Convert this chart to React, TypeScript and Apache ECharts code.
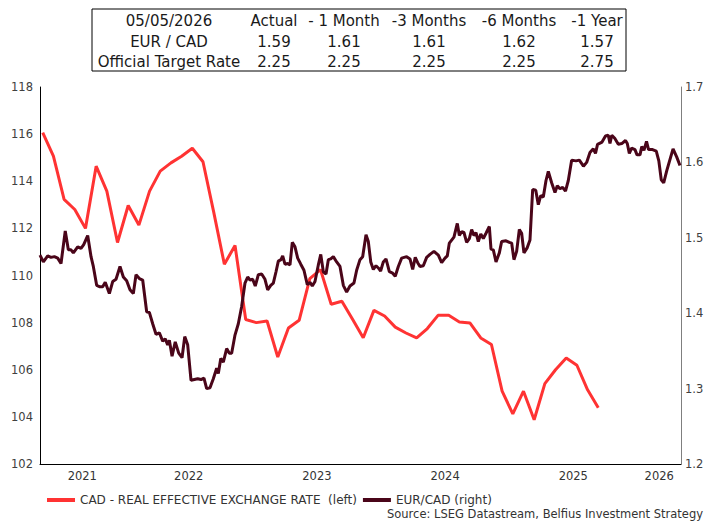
import React, { useEffect, useRef } from "react";
import * as echarts from "echarts";

// ---- Table data ----
const tableHeader = ["05/05/2026", "Actual", "- 1 Month", "-3 Months", "-6 Months", "-1 Year"];
const tableEurCad = ["EUR / CAD", "1.59", "1.61", "1.61", "1.62", "1.57"];
const tableRate = ["Official Target Rate", "2.25", "2.25", "2.25", "2.25", "2.75"];

// ---- Axis labels ----
const yearLabels = ["2021", "2022", "2023", "2024", "2025", "2026"];

// ---- Series names ----
const reerName = "CAD - REAL EFFECTIVE EXCHANGE RATE  (left)";
const eurCadName = "EUR/CAD (right)";
const sourceText = "Source: LSEG Datastream, Belfius Investment Strategy";

// ---- CAD real effective exchange rate (monthly) ----
const reerMonths = [
  "2021-05", "2021-06", "2021-07", "2021-08", "2021-09", "2021-10", "2021-11", "2021-12",
  "2022-01", "2022-02", "2022-03", "2022-04", "2022-05", "2022-06", "2022-07", "2022-08",
  "2022-09", "2022-10", "2022-11", "2022-12",
  "2023-01", "2023-02", "2023-03", "2023-04", "2023-05", "2023-06", "2023-07", "2023-08",
  "2023-09", "2023-10", "2023-11", "2023-12",
  "2024-01", "2024-02", "2024-03", "2024-04", "2024-05", "2024-06", "2024-07", "2024-08",
  "2024-09", "2024-10", "2024-11", "2024-12",
  "2025-01", "2025-02", "2025-03", "2025-04", "2025-05", "2025-06", "2025-07", "2025-08",
  "2025-09",
];
const reerValues = [
  116.06, 115.07, 113.23, 112.8, 112.0, 114.64, 113.58, 111.4,
  112.97, 112.14, 113.58, 114.43, 114.78, 115.06, 115.4, 114.83,
  112.7, 110.48, 111.27, 108.13,
  108.0, 108.07, 106.54, 107.77, 108.1, 109.87, 110.25, 108.78,
  108.91, 108.14, 107.36, 108.52,
  108.28, 107.81, 107.56, 107.35, 107.75, 108.31, 108.31, 108.03,
  107.98, 107.35, 107.07, 105.09,
  104.13, 105.09, 103.88, 105.41, 106.0, 106.5, 106.19, 105.15,
  104.39,
];

// ---- EUR/CAD (time in decimal years, value) ----
const eurCad: [number, number][] = [
  [2021.340, 1.477], [2021.366, 1.468], [2021.400, 1.476], [2021.426, 1.474], [2021.452, 1.475],
  [2021.478, 1.473], [2021.504, 1.466], [2021.537, 1.509], [2021.561, 1.484], [2021.582, 1.484],
  [2021.600, 1.480], [2021.634, 1.488], [2021.660, 1.486], [2021.681, 1.491], [2021.712, 1.503],
  [2021.738, 1.475], [2021.756, 1.462], [2021.782, 1.437], [2021.808, 1.435], [2021.829, 1.435],
  [2021.849, 1.441], [2021.881, 1.426], [2021.907, 1.442], [2021.933, 1.445], [2021.964, 1.462],
  [2021.990, 1.448], [2022.016, 1.443], [2022.042, 1.431], [2022.068, 1.426], [2022.089, 1.451],
  [2022.115, 1.446], [2022.141, 1.444], [2022.172, 1.402], [2022.193, 1.401], [2022.219, 1.386],
  [2022.245, 1.372], [2022.271, 1.374], [2022.297, 1.363], [2022.317, 1.366], [2022.336, 1.358],
  [2022.349, 1.364], [2022.370, 1.343], [2022.395, 1.362], [2022.422, 1.347], [2022.448, 1.341],
  [2022.469, 1.369], [2022.492, 1.358], [2022.518, 1.311], [2022.544, 1.312], [2022.570, 1.313],
  [2022.596, 1.312], [2022.619, 1.314], [2022.640, 1.300], [2022.666, 1.301], [2022.692, 1.313],
  [2022.718, 1.327], [2022.731, 1.320], [2022.750, 1.340], [2022.770, 1.335], [2022.796, 1.353],
  [2022.817, 1.347], [2022.835, 1.347], [2022.861, 1.371], [2022.887, 1.386], [2022.913, 1.409],
  [2022.939, 1.440], [2022.960, 1.448], [2022.978, 1.444], [2022.999, 1.445], [2023.019, 1.436],
  [2023.043, 1.451], [2023.069, 1.452], [2023.095, 1.445], [2023.116, 1.431], [2023.140, 1.437],
  [2023.160, 1.440], [2023.181, 1.455], [2023.199, 1.469], [2023.220, 1.471], [2023.233, 1.476],
  [2023.251, 1.465], [2023.272, 1.466], [2023.290, 1.464], [2023.308, 1.494], [2023.329, 1.488],
  [2023.350, 1.473], [2023.374, 1.465], [2023.399, 1.457], [2023.425, 1.438], [2023.446, 1.441],
  [2023.464, 1.436], [2023.485, 1.442], [2023.511, 1.464], [2023.530, 1.478], [2023.550, 1.455],
  [2023.571, 1.452], [2023.589, 1.471], [2023.608, 1.472], [2023.628, 1.475], [2023.654, 1.468],
  [2023.680, 1.462], [2023.706, 1.437], [2023.732, 1.428], [2023.758, 1.436], [2023.789, 1.440],
  [2023.810, 1.457], [2023.836, 1.471], [2023.857, 1.475], [2023.883, 1.504], [2023.901, 1.495],
  [2023.920, 1.468], [2023.940, 1.458], [2023.961, 1.463], [2023.979, 1.460], [2023.997, 1.456],
  [2024.018, 1.468], [2024.039, 1.472], [2024.065, 1.455], [2024.091, 1.453], [2024.111, 1.449],
  [2024.135, 1.462], [2024.161, 1.473], [2024.200, 1.475], [2024.226, 1.472], [2024.247, 1.458],
  [2024.267, 1.474], [2024.286, 1.467], [2024.304, 1.462], [2024.330, 1.463], [2024.356, 1.474],
  [2024.382, 1.478], [2024.413, 1.482], [2024.447, 1.477], [2024.473, 1.467], [2024.499, 1.473],
  [2024.517, 1.476], [2024.533, 1.493], [2024.551, 1.497], [2024.569, 1.501], [2024.595, 1.519],
  [2024.611, 1.503], [2024.629, 1.508], [2024.647, 1.507], [2024.668, 1.494], [2024.689, 1.499],
  [2024.707, 1.511], [2024.725, 1.503], [2024.741, 1.507], [2024.759, 1.495], [2024.778, 1.505],
  [2024.798, 1.499], [2024.819, 1.506], [2024.845, 1.515], [2024.858, 1.485], [2024.876, 1.484],
  [2024.897, 1.468], [2024.923, 1.480], [2024.941, 1.495], [2024.975, 1.496], [2025.001, 1.494],
  [2025.019, 1.493], [2025.037, 1.471], [2025.058, 1.482], [2025.079, 1.511], [2025.097, 1.506],
  [2025.115, 1.480], [2025.141, 1.487], [2025.162, 1.497], [2025.183, 1.564], [2025.207, 1.563],
  [2025.227, 1.544], [2025.246, 1.556], [2025.266, 1.554], [2025.287, 1.576], [2025.305, 1.588],
  [2025.331, 1.573], [2025.357, 1.560], [2025.375, 1.569], [2025.396, 1.565], [2025.417, 1.567],
  [2025.439, 1.562], [2025.461, 1.576], [2025.487, 1.603], [2025.521, 1.602], [2025.547, 1.603],
  [2025.579, 1.595], [2025.604, 1.600], [2025.630, 1.613], [2025.656, 1.618], [2025.673, 1.612],
  [2025.689, 1.624], [2025.724, 1.627], [2025.751, 1.635], [2025.773, 1.636], [2025.786, 1.625],
  [2025.800, 1.636], [2025.823, 1.632], [2025.851, 1.624], [2025.878, 1.625], [2025.907, 1.629],
  [2025.921, 1.625], [2025.937, 1.612], [2025.955, 1.619], [2025.981, 1.617], [2025.997, 1.610],
  [2026.020, 1.610], [2026.034, 1.621], [2026.051, 1.616], [2026.071, 1.628], [2026.087, 1.617],
  [2026.118, 1.617], [2026.147, 1.615], [2026.167, 1.602], [2026.186, 1.577], [2026.205, 1.573],
  [2026.229, 1.589], [2026.278, 1.618], [2026.307, 1.607], [2026.332, 1.596],
];

const X_MIN = 2021.34;
const X_MAX = 2026.34;

const RED = "#FF3333";
const DARK = "#4A0519";
const FONT = "'DejaVu Sans', 'Open Sans', sans-serif";

export default function App() {
  const ref = useRef<HTMLDivElement>(null);

  useEffect(() => {
    if (!ref.current) return;
    const chart = echarts.init(ref.current, undefined, { renderer: "svg" });

    const reerData = reerMonths.map((m, i) => {
      const [y, mo] = m.split("-").map(Number);
      return [y + (mo - 1) / 12 + 0.028, reerValues[i]];
    });

    const labelValues = yearLabels.map((y) => {
      const a = Math.max(Number(y), X_MIN);
      const b = Math.min(Number(y) + 1, X_MAX);
      return (a + b) / 2;
    });

    const colX = [169, 274, 344, 429, 519, 597];
    const rowY = [21, 41.5, 61.5];
    const rows = [tableHeader, tableEurCad, tableRate];
    const tableTexts: any[] = [];
    rows.forEach((row, r) => {
      row.forEach((txt, c) => {
        tableTexts.push({
          type: "text",
          x: colX[c],
          y: rowY[r],
          style: {
            text: txt,
            textAlign: "center",
            textVerticalAlign: "middle",
            font: `15px ${FONT}`,
            fill: "#1a1a1a",
          },
        });
      });
    });

    chart.setOption({
      animation: false,
      backgroundColor: "#ffffff",
      textStyle: { fontFamily: FONT },
      grid: { left: 40, right: 28, top: 87, bottom: 57, containLabel: false },
      legend: {
        left: 42,
        top: 489,
        itemGap: 6,
        itemWidth: 28,
        itemHeight: 4,
        icon: "rect",
        textStyle: { fontSize: 12, color: "#333333", fontFamily: FONT },
        data: [reerName, eurCadName],
      },
      xAxis: {
        type: "value",
        min: X_MIN,
        max: X_MAX,
        axisLine: { show: true, lineStyle: { color: "#000000", width: 1 } },
        axisTick: { show: false },
        splitLine: { show: false },
        axisLabel: {
          customValues: labelValues,
          formatter: (v: number) => String(Math.floor(v)),
          color: "#333333",
          fontSize: 11.5,
          margin: 6,
          fontFamily: FONT,
        },
      },
      yAxis: [
        {
          type: "value",
          min: 102,
          max: 118,
          interval: 2,
          position: "left",
          axisLine: { show: true, lineStyle: { color: "#000000", width: 1 } },
          axisTick: { show: false },
          splitLine: { show: false },
          axisLabel: { color: "#404040", fontSize: 11.5, margin: 7, fontFamily: FONT },
        },
        {
          type: "value",
          min: 1.2,
          max: 1.7,
          interval: 0.1,
          position: "right",
          axisLine: { show: true, lineStyle: { color: "#7f7f7f", width: 1 } },
          axisTick: { show: false },
          splitLine: { show: false },
          axisLabel: {
            color: "#404040",
            fontSize: 11.5,
            margin: 4,
            fontFamily: FONT,
            formatter: (v: number) => v.toFixed(1),
          },
        },
      ],
      series: [
        {
          name: reerName,
          type: "line",
          yAxisIndex: 0,
          data: reerData,
          showSymbol: false,
          symbol: "none",
          lineStyle: { color: RED, width: 3 },
          itemStyle: { color: RED },
          z: 2,
        },
        {
          name: eurCadName,
          type: "line",
          yAxisIndex: 1,
          data: eurCad,
          showSymbol: false,
          symbol: "none",
          lineStyle: { color: DARK, width: 3 },
          itemStyle: { color: DARK },
          z: 3,
        },
      ],
      graphic: [
        {
          type: "rect",
          shape: { x: 92, y: 9, width: 534, height: 62 },
          style: { fill: "#ffffff", stroke: "#000000", lineWidth: 1 },
        },
        ...tableTexts,
        {
          type: "text",
          x: 387,
          y: 514,
          style: {
            text: sourceText,
            textAlign: "left",
            textVerticalAlign: "middle",
            font: `11.5px ${FONT}`,
            fill: "#333333",
          },
        },
      ],
    });

    return () => chart.dispose();
  }, []);

  return (
    <div
      ref={ref}
      style={{ position: "fixed", left: 0, top: 0, width: 709, height: 521 }}
    />
  );
}
